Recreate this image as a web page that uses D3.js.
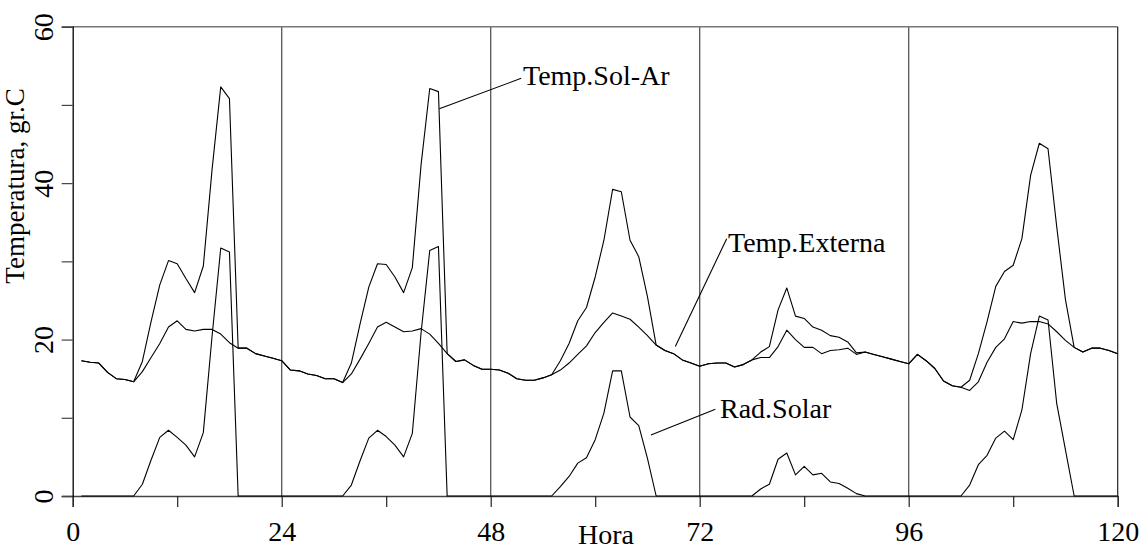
<!DOCTYPE html>
<html>
<head>
<meta charset="utf-8">
<script src="https://cdn.jsdelivr.net/npm/d3@7"></script>
<style>
  body { margin: 0; background: #fff; }
  text { font-family: "Liberation Serif", "Times New Roman", serif; }
</style>
</head>
<body>
<svg id="svg"></svg>
<script>
var hours = d3.range(1, 121);

var tempExterna = [
  17.3,17.1,17.0,15.8,15.0,14.9,14.6,15.9,17.7,19.5,21.6,22.4,21.3,21.1,21.3,21.3,20.7,19.6,18.9,18.9,18.2,17.9,17.6,17.3,
  16.1,16.0,15.6,15.4,15.0,15.0,14.5,15.6,17.5,19.5,21.6,22.2,21.6,21.0,21.1,21.4,20.7,19.5,18.2,17.2,17.4,16.7,16.2,16.2,
  16.1,15.7,15.0,14.8,14.8,15.1,15.5,16.1,17.0,18.1,19.2,20.9,22.2,23.4,23.0,22.6,21.6,20.5,19.3,18.6,18.2,17.4,17.0,16.6,
  16.9,17.0,17.0,16.5,16.8,17.4,17.7,17.7,19.1,21.2,20.0,19.0,19.0,18.2,18.6,18.7,18.9,18.1,18.4,18.1,17.8,17.5,17.2,16.9,
  18.1,17.3,16.3,14.7,14.1,13.9,13.5,14.6,17.1,19.0,20.1,22.3,22.1,22.3,22.3,22.0,21.0,19.9,19.0,18.4,18.9,18.9,18.6,18.2
];

var tempSolAr = [
  17.3,17.1,17.0,15.8,15.0,14.9,14.6,17.2,22.3,27.0,30.1,29.7,27.8,26.0,29.4,41.7,52.3,50.8,18.9,18.9,18.2,17.9,17.6,17.3,
  16.1,16.0,15.6,15.4,15.0,15.0,14.5,17.0,22.0,26.7,29.7,29.6,28.0,26.0,29.2,42.3,52.1,51.7,18.2,17.2,17.4,16.7,16.2,16.2,
  16.1,15.7,15.0,14.8,14.8,15.1,15.5,17.3,19.5,22.4,24.1,28.0,32.7,39.2,38.9,32.7,30.6,25.5,19.3,18.6,18.2,17.4,17.0,16.6,
  16.9,17.0,17.0,16.5,16.8,17.4,18.4,19.1,23.8,26.6,23.0,22.7,21.6,21.2,20.5,20.3,19.7,18.3,18.4,18.1,17.8,17.5,17.2,16.9,
  18.1,17.3,16.3,14.7,14.1,13.9,14.8,18.2,22.3,26.8,28.7,29.5,32.9,41.0,45.1,44.4,34.4,25.1,19.0,18.4,18.9,18.9,18.6,18.2
];

var radSolar = [
  0,0,0,0,0,0,0,1.5,4.6,7.5,8.4,7.5,6.5,5.0,8.1,20.4,31.7,31.2,0,0,0,0,0,0,
  0,0,0,0,0,0,0,1.4,4.5,7.4,8.4,7.6,6.5,5.0,8.0,20.8,31.4,31.9,0,0,0,0,0,0,
  0,0,0,0,0,0,0,1.2,2.5,4.2,4.9,7.2,10.6,16.0,16.0,10.1,9.0,4.8,0,0,0,0,0,0,
  0,0,0,0,0,0,0.9,1.5,4.7,5.5,2.7,3.8,2.7,2.9,1.8,1.6,1.0,0.3,0,0,0,0,0,0,
  0,0,0,0,0,0,1.4,4.0,5.2,7.4,8.3,7.2,11.0,18.2,23.0,22.5,11.8,5.9,0,0,0,0,0,0
];

var xTicks = [0, 12, 24, 36, 48, 60, 72, 84, 96, 108, 120],
    xLabels = [0, 24, 48, 72, 96, 120],
    dayLines = [24, 48, 72, 96],
    yTicks = [0, 10, 20, 30, 40, 50, 60],
    yLabels = [0, 20, 40, 60];

// labels with leader lines (leader ends in hour / gr.C)
var notes = [
  { text: "Temp.Sol-Ar", from: [42.1, 49.5], to: [51.5, 53.4], tx: 523, ty: 85 },
  { text: "Temp.Externa", from: [69.2, 19.1], to: [75.1, 32.9], tx: 728, ty: 252 },
  { text: "Rad.Solar", from: [66.4, 7.8], to: [73.8, 11.1], tx: 720, ty: 418 }
];

var serif = "'Liberation Serif', 'Times New Roman', serif";

var svg = d3.select("#svg"),
    width = 1145,
    height = 550;
svg.attr("width", width).attr("height", height);

var x = d3.scaleLinear().domain([0, 120]).range([72.7, 1117.7]),
    y = d3.scaleLinear().domain([0, 60]).range([496, 26.7]);

// day separators and frame
svg.append("g").selectAll("line")
    .data(dayLines)
    .enter().append("line")
      .attr("x1", function(d) { return x(d); })
      .attr("x2", function(d) { return x(d); })
      .attr("y1", y(0))
      .attr("y2", y(60))
      .attr("stroke", "#555")
      .attr("stroke-width", 1.3);

svg.append("line")
    .attr("x1", x(0)).attr("x2", x(120))
    .attr("y1", y(60)).attr("y2", y(60))
    .attr("stroke", "#777").attr("stroke-width", 1.5);

svg.append("line")
    .attr("x1", x(120)).attr("x2", x(120))
    .attr("y1", y(60)).attr("y2", y(0))
    .attr("stroke", "#222").attr("stroke-width", 1.2);

var xAxis = svg.append("g")
    .attr("transform", "translate(0," + y(0) + ")")
    .call(d3.axisBottom(x).tickValues(xTicks).tickSize(11).tickFormat(function(d) {
      return xLabels.indexOf(d) >= 0 ? d : "";
    }))
    .attr("font-family", serif);
xAxis.select(".domain").attr("stroke", "#444").attr("stroke-width", 1.3);
xAxis.selectAll(".tick line").attr("stroke", "#222").attr("stroke-width", 1.2);
xAxis.selectAll(".tick text")
    .attr("y", 0).attr("dy", 45)
    .attr("font-size", 28).attr("fill", "#000");

var yAxis = svg.append("g")
    .attr("transform", "translate(" + x(0) + ",0)")
    .call(d3.axisLeft(y).tickValues(yTicks).tickSize(11).tickFormat(function(d) {
      return yLabels.indexOf(d) >= 0 ? d : "";
    }))
    .attr("font-family", serif);
yAxis.select(".domain").attr("stroke", "#000").attr("stroke-width", 1.3);
yAxis.selectAll(".tick line").attr("stroke", "#444").attr("stroke-width", 1.2);
yAxis.selectAll(".tick text")
    .attr("x", null).attr("dy", null)
    .attr("text-anchor", "middle")
    .attr("transform", "translate(-19.5,0) rotate(-90)")
    .attr("font-size", 28).attr("fill", "#000");

var line = d3.line()
    .x(function(d, i) { return x(hours[i]); })
    .y(function(d) { return y(d); });

[radSolar, tempExterna, tempSolAr].forEach(function(s) {
  svg.append("path")
      .datum(s)
      .attr("d", line)
      .attr("fill", "none")
      .attr("stroke", "#000")
      .attr("stroke-width", 1.1)
      .attr("stroke-linejoin", "round");
});

var note = svg.append("g").selectAll("g")
    .data(notes)
    .enter().append("g");

note.append("line")
    .attr("x1", function(d) { return x(d.from[0]); })
    .attr("y1", function(d) { return y(d.from[1]); })
    .attr("x2", function(d) { return x(d.to[0]); })
    .attr("y2", function(d) { return y(d.to[1]); })
    .attr("stroke", "#000")
    .attr("stroke-width", 1.1);

note.append("text")
    .attr("x", function(d) { return d.tx; })
    .attr("y", function(d) { return d.ty; })
    .attr("font-size", 28)
    .text(function(d) { return d.text; });

svg.append("text")
    .attr("x", 606)
    .attr("y", 544)
    .attr("text-anchor", "middle")
    .attr("font-size", 28)
    .text("Hora");

svg.append("text")
    .attr("transform", "translate(24,186) rotate(-90)")
    .attr("text-anchor", "middle")
    .attr("font-size", 27)
    .text("Temperatura, gr.C");
</script>
</body>
</html>
